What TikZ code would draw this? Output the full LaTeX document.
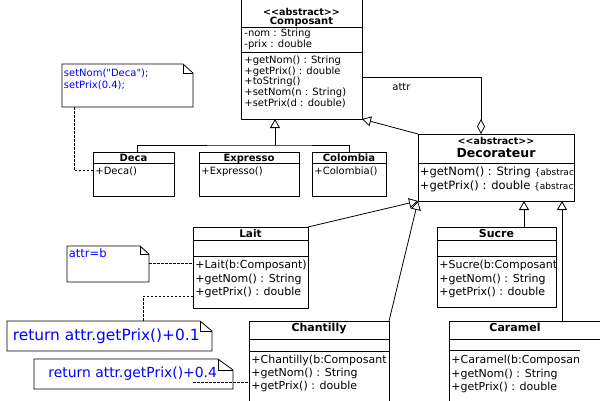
\documentclass[tikz,border=0pt]{standalone}
\usepackage{fontspec}
\setmainfont{DejaVu Sans}
\usetikzlibrary{arrows.meta}
\newcommand\fsz[1]{\fontsize{#1}{#1}\selectfont}
\newcommand\sepat[2]{\draw ([yshift=-#2pt]#1.north west) -- ([yshift=-#2pt]#1.north east);}
\newcommand\notedraw[3]{%
  \draw (#1.north west) -- ([xshift=-#2pt]#1.north east) -- ([yshift=-#3pt]#1.north east) -- (#1.south east) -- (#1.south west) -- cycle;
  \draw ([xshift=-#2pt]#1.north east) -- ([xshift=-#2pt,yshift=-#3pt]#1.north east) -- ([yshift=-#3pt]#1.north east);}
\newcommand\abst{<\kern0pt<abstract>\kern0pt>}
\newcommand\dq{\XeTeXglyph\XeTeXcharglyph"22 \relax}
\begin{document}
\begin{tikzpicture}[x=1pt,y=-1pt,line width=0.8pt,
  box/.style={draw, rectangle, inner sep=0pt, outer sep=0pt, anchor=north west},
  txt/.style={anchor=base west, inner sep=0pt},
  ctxt/.style={anchor=base, inner sep=0pt},
  gen/.style={-{Triangle[open,width=10pt,length=9pt]}},
  aggr/.style={{Diamond[open,width=8pt,length=15pt]}-},
  dashcon/.style={dash pattern=on 2.5pt off 1.5pt, line width=0.7pt},
  note/.style={rectangle, inner sep=0pt, outer sep=0pt, anchor=north west},
  ntxt/.style={anchor=base west, inner sep=0pt, text=blue},
]
\useasboundingbox (0,0) rectangle (600,400);
\clip (0,0) rectangle (600,400);

% ---------- Composant ----------
\node[box, minimum width=121pt, minimum height=124pt] (comp) at (241,-5) {};
\sepat{comp}{32}
\sepat{comp}{57}
\node[ctxt, font=\bfseries\fsz{9.5}] (c0) at (301.5,15) {\abst};
\node[ctxt, font=\bfseries\fsz{10}] (c1) at (301.5,24) {Composant};
\node[txt, font=\fsz{10}] (c2) at (244,36.5) {-nom : String};
\node[txt, font=\fsz{10}] (c3) at (244,47.5) {-prix : double};
\node[txt, font=\fsz{10}] (c4) at (244,63) {+getNom() : String};
\node[txt, font=\fsz{10}] (c5) at (244,74) {+getPrix() : double};
\node[txt, font=\fsz{10}] (c6) at (244,84.5) {+toString()};
\node[txt, font=\fsz{10}] (c7) at (244,95.5) {+setNom(n : String)};
\node[txt, font=\fsz{10}] (c8) at (244,106.5) {+setPrix(d : double)};

% ---------- Deca / Expresso / Colombia ----------
\node[box, minimum width=81pt, minimum height=44pt] (deca) at (93,152) {};
\sepat{deca}{11}
\node[ctxt, font=\bfseries\fsz{10}] (d0) at (133.5,161) {Deca};
\node[txt, font=\fsz{10}] (d1) at (95,174) {+Deca()};
\node[box, minimum width=100pt, minimum height=44pt] (expr) at (199,152) {};
\sepat{expr}{11}
\node[ctxt, font=\bfseries\fsz{10}] (e0) at (249,161) {Expresso};
\node[txt, font=\fsz{10}] (e1) at (201,174) {+Expresso()};
\node[box, minimum width=74pt, minimum height=44pt] (colo) at (312,152) {};
\sepat{colo}{11}
\node[ctxt, font=\bfseries\fsz{10}] (o0) at (349,161) {Colombia};
\node[txt, font=\fsz{10}] (o1) at (314,174) {+Colombia()};

% ---------- Decorateur ----------
\node[box, minimum width=156pt, minimum height=67pt] (deco) at (418,134) {};
\sepat{deco}{29}
\node[ctxt, font=\bfseries\fsz{9.5}] (r0) at (496,144) {\abst};
\node[ctxt, font=\bfseries\fsz{12.5}] (r1) at (496,157.5) {Decorateur};
\begin{scope}
\clip (deco.north west) rectangle (deco.south east);
\node[txt, font=\fsz{11.5}] (r2) at (419.5,175.5) {+getNom() : String {\fsz{9}\{abstract\}}};
\node[txt, font=\fsz{11.5}] (r3) at (419.5,189.5) {+getPrix() : double {\fsz{9}\{abstract\}}};
\end{scope}

% ---------- Lait ----------
\node[box, minimum width=115pt, minimum height=81pt] (lait) at (193,227) {};
\sepat{lait}{13}
\sepat{lait}{29}
\node[ctxt, font=\bfseries\fsz{10.5}] (l0) at (250.5,237) {Lait};
\begin{scope}
\clip (lait.north west) rectangle (lait.south east);
\node[txt, font=\fsz{11}] (l1) at (195,268) {+Lait(b:Composant)};
\node[txt, font=\fsz{11}] (l2) at (195,282) {+getNom() : String};
\node[txt, font=\fsz{11}] (l3) at (195,295.5) {+getPrix() : double};
\end{scope}

% ---------- Sucre ----------
\node[box, minimum width=119pt, minimum height=80pt] (sucre) at (437,227) {};
\sepat{sucre}{13}
\sepat{sucre}{29}
\node[ctxt, font=\bfseries\fsz{11}] (s0) at (496.5,237) {Sucre};
\begin{scope}
\clip (sucre.north west) rectangle (sucre.south east);
\node[txt, font=\fsz{11}] (s1) at (439,268.5) {+Sucre(b:Composant};
\node[txt, font=\fsz{11}] (s2) at (439,282) {+getNom() : String};
\node[txt, font=\fsz{11}] (s3) at (439,295.5) {+getPrix() : double};
\end{scope}

% ---------- Chantilly ----------
\node[box, minimum width=140pt, minimum height=90pt] (chan) at (249,321) {};
\sepat{chan}{18}
\sepat{chan}{30}
\node[ctxt, font=\bfseries\fsz{11}] (h0) at (319,331) {Chantilly};
\begin{scope}
\clip (chan.north west) rectangle (chan.south east);
\node[txt, font=\fsz{11}] (h1) at (251,363) {+Chantilly(b:Composant};
\node[txt, font=\fsz{11}] (h2) at (251,376) {+getNom() : String};
\node[txt, font=\fsz{11}] (h3) at (251,389.5) {+getPrix() : double};
\end{scope}

% ---------- Caramel ----------
\node[box, minimum width=171pt, minimum height=90pt] (cara) at (449,321) {};
\sepat{cara}{18}
\draw ([yshift=-29pt]cara.north west) -- +(131,0);
\node[ctxt, font=\bfseries\fsz{11}] (k0) at (515,331.5) {Caramel};
\node[txt, font=\fsz{11}] (k1) at (451,363.5) {+Caramel(b:Composan};
\node[txt, font=\fsz{11}] (k2) at (451,377) {+getNom() : String};
\node[txt, font=\fsz{11}] (k3) at (451,390.5) {+getPrix() : double};

% ---------- Notes ----------
\node[note, minimum width=131pt, minimum height=43pt] (n1) at (62,64) {};
\notedraw{n1}{10}{9}
\node[ntxt, font=\fsz{10}] (n1a) at (63.5,76) {setNom(\dq Deca\dq);};
\node[ntxt, font=\fsz{10}] (n1b) at (63.5,88) {setPrix(0.4);};

\node[note, minimum width=82pt, minimum height=36pt] (n2) at (67,246) {};
\notedraw{n2}{9}{8}
\node[ntxt, font=\fsz{11.5}] (n2a) at (68.5,257.5) {attr=b};

\node[note, minimum width=205pt, minimum height=30pt] (n3) at (7,321) {};
\notedraw{n3}{12}{10}
\node[ntxt, font=\fsz{15.4}] (n3a) at (12.5,340) {return attr.getPrix()+0.1};

\node[note, minimum width=199pt, minimum height=30pt] (n4) at (34,359) {};
\notedraw{n4}{15}{11}
\node[ntxt, font=\fsz{13.9}] (n4a) at (48,377) {return attr.getPrix()+0.4};

% ---------- Connectors ----------
\coordinate (t1) at (275,145);
\draw ([xshift=3.5pt]deca.north) |- (t1) -| (colo.north);
\draw[gen] (t1) -- (t1 |- comp.south);
\draw[gen] (deco.north west) -- (comp.south east);
\draw[aggr] ([xshift=-15pt]deco.north) |- ([yshift=-82pt]comp.north east);
\node[txt, font=\fsz{10}] (attr) at (392,90) {attr};
\draw[gen] (lait.north east) -- (deco.south west);
\draw[gen] (chan.north east) -- (deco.south west);
\draw[gen] ([xshift=27.5pt]sucre.north) -- ([xshift=27.5pt]sucre.north |- deco.south);
\draw[gen] ([xshift=27.5pt]cara.north) -- ([xshift=27.5pt]cara.north |- deco.south);

\draw[dashcon] ([xshift=12pt]n1.south west) |- ([yshift=-18.5pt]deca.north west);
\draw[dashcon] ([yshift=-17pt]n2.north east) -- ([yshift=-17pt]n2.north east -| lait.west);
\draw[dashcon] ([yshift=-69pt]lait.north west) -| ([xshift=136pt]n3.north west);
\coordinate (d4) at (193,382);
\draw[dashcon] (d4) -- (d4 -| chan.west);
\end{tikzpicture}
\end{document}
